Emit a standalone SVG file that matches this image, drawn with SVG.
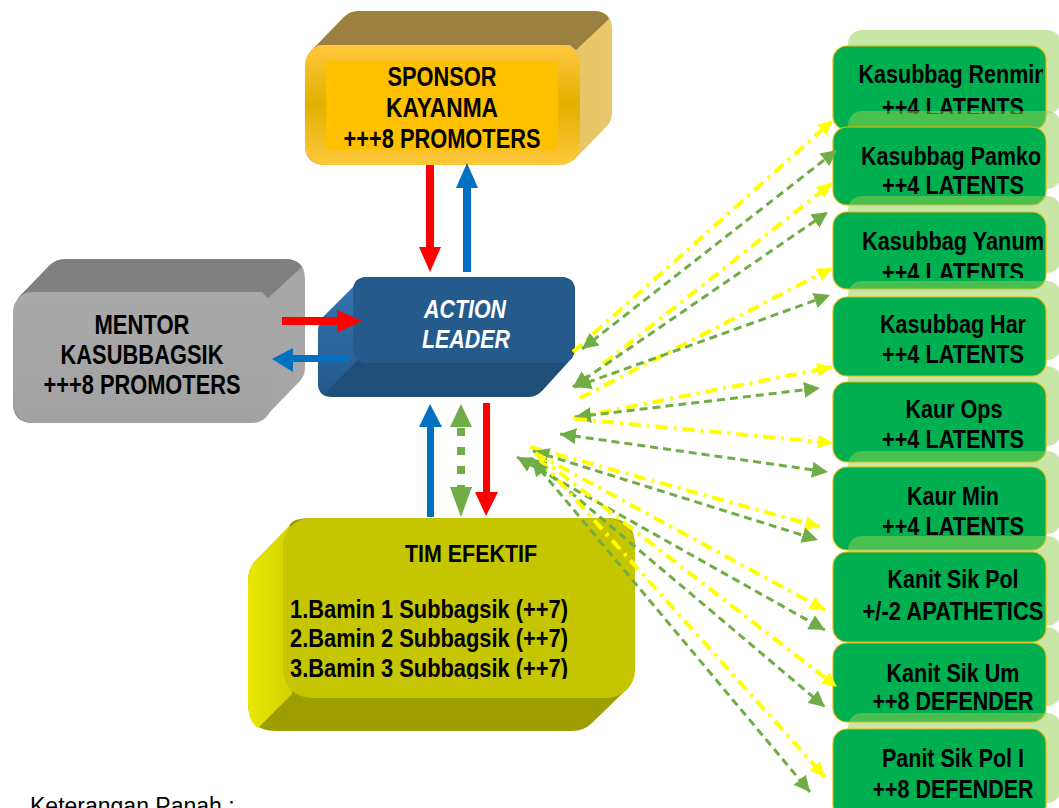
<svg xmlns="http://www.w3.org/2000/svg" width="1059" height="808" viewBox="0 0 1059 808">
<style>
.bt{font-family:"Liberation Sans",Arial,sans-serif;font-weight:bold;fill:#000}
.big{font-size:27px;text-anchor:middle}
.rbt{font-size:25px;text-anchor:middle}
.al{font-family:"Liberation Sans",Arial,sans-serif;font-weight:bold;font-style:italic;font-size:25px;fill:#fff;text-anchor:middle}
.rbox{fill:#00b050;stroke:#f0b400;stroke-width:1.2}
.rsh{fill:#92d050;fill-opacity:0.5}
.yl{fill:none;stroke:#ffff00;stroke-width:4;stroke-dasharray:12 6 3 6;marker-end:url(#ay)}
.gl{fill:none;stroke:#70ad47;stroke-width:3;stroke-dasharray:8 5;marker-start:url(#ag);marker-end:url(#ag)}
</style>
<defs>
<marker id="ay" markerUnits="userSpaceOnUse" markerWidth="16" markerHeight="14" refX="15" refY="7" orient="auto-start-reverse"><path d="M0,0 L15,7 L0,14 Z" fill="#ffff00"/></marker>
<marker id="ag" markerUnits="userSpaceOnUse" markerWidth="17" markerHeight="16" refX="16" refY="8" orient="auto-start-reverse"><path d="M0,0 L16,8 L0,16 Z" fill="#70ad47"/></marker>
<linearGradient id="spFront" x1="0" y1="0" x2="0" y2="1"><stop offset="0" stop-color="#ffc83c"/><stop offset="0.5" stop-color="#e2b000"/><stop offset="1" stop-color="#ffc83c"/></linearGradient>
<linearGradient id="spSide" x1="0" y1="0" x2="1" y2="0"><stop offset="0" stop-color="#d9b44e"/><stop offset="1" stop-color="#e8c86a"/></linearGradient>
<linearGradient id="mnSide" x1="0" y1="0" x2="1" y2="0"><stop offset="0" stop-color="#8a8a8a"/><stop offset="1" stop-color="#a8a8a8"/></linearGradient>
<linearGradient id="mnFront" x1="0" y1="0" x2="0" y2="1"><stop offset="0" stop-color="#a9a9a9"/><stop offset="1" stop-color="#a2a2a2"/></linearGradient>
<linearGradient id="alSide" x1="0" y1="0" x2="0" y2="1"><stop offset="0" stop-color="#3374b2"/><stop offset="1" stop-color="#23598b"/></linearGradient>
<linearGradient id="teSide" x1="0" y1="0" x2="1" y2="0"><stop offset="0" stop-color="#e8e800"/><stop offset="1" stop-color="#d2d200"/></linearGradient>
<clipPath id="cTe"><rect x="283" y="518" width="352" height="161"/></clipPath>
<clipPath id="cR"><rect x="835" y="0" width="208" height="808"/></clipPath>
<clipPath id="cR1"><rect x="835" y="46" width="208" height="68"/></clipPath>
<clipPath id="cR3"><rect x="835" y="212" width="208" height="66"/></clipPath>
</defs>

<rect x="0" y="0" width="1059" height="808" fill="#ffffff"/>

<g id="node-sponsor">
<path d="M310,52 L344,17 Q350,11 358,11 L594,11 Q612,11 612,29 L612,113 Q612,121 606,127 L574,160 L560,165 L325,165 Q305,165 305,145 L305,65 Z" fill="url(#spSide)"/>
<path d="M310,52 L344,17 Q350,11 358,11 L594,11 Q605,11 609,19 L576,50 L570,45 L318,45 Z" fill="#9c8040"/>
<rect x="305" y="45" width="275" height="120" rx="20" fill="url(#spFront)"/>
<rect x="326" y="61" width="232" height="89" fill="#ffc000"/>
<text class="bt big" x="442" y="86" textLength="109" lengthAdjust="spacingAndGlyphs">SPONSOR</text>
<text class="bt big" x="442" y="117" textLength="112" lengthAdjust="spacingAndGlyphs">KAYANMA</text>
<text class="bt big" x="442" y="148" textLength="197" lengthAdjust="spacingAndGlyphs">+++8 PROMOTERS</text>
</g>

<g id="node-mentor">
<path d="M18,298 L50,265 Q56,259 66,259 L285,259 Q305,259 305,279 L305,368 Q305,376 299,382 L266,416 L250,423 L33,423 Q13,423 13,403 L13,312 Z" fill="url(#mnSide)"/>
<path d="M18,298 L50,265 Q56,259 66,259 L285,259 Q297,259 302,267 L268,298 L262,292 L26,292 Z" fill="#808080"/>
<rect x="13" y="292" width="259" height="131" rx="20" fill="url(#mnFront)"/>
<text class="bt big" x="142" y="334" textLength="95" lengthAdjust="spacingAndGlyphs">MENTOR</text>
<text class="bt big" x="142" y="364" textLength="163" lengthAdjust="spacingAndGlyphs">KASUBBAGSIK</text>
<text class="bt big" x="142" y="394" textLength="197" lengthAdjust="spacingAndGlyphs">+++8 PROMOTERS</text>
</g>

<g id="node-action-leader">
<path d="M353,291 L323,321 Q318,326 318,334 L318,383 Q318,397 332,397 L528,397 Q536,397 542,391 L572,358 L575,349 L575,291 Q575,277 561,277 L367,277 Q353,277 353,291 Z" fill="#1f4e79"/>
<path d="M356,284 L322,318 Q318,323 318,332 L318,383 Q318,391 324,394 L358,360 Z" fill="url(#alSide)"/>
<rect x="353" y="277" width="222" height="86" rx="14" fill="#255b8c"/>
<text class="al" x="465" y="318" textLength="82" lengthAdjust="spacingAndGlyphs">ACTION</text>
<text class="al" x="466" y="348" textLength="88" lengthAdjust="spacingAndGlyphs">LEADER</text>
</g>

<g id="node-tim-efektif">
<path d="M289,528 L256,561 Q248,569 248,581 L248,703 Q248,731 276,731 L572,731 Q584,731 592,723 L628,688 L635,670 L635,546 Q635,518 607,518 L311,518 Q289,518 289,528 Z" fill="#9e9e00"/>
<path d="M290,525 L254,562 Q248,569 248,581 L248,703 Q248,722 258,728 L292,694 Z" fill="url(#teSide)"/>
<rect x="283" y="518" width="352" height="180" rx="28" fill="#c6c600"/>
<text class="bt" x="471" y="562" font-size="23" text-anchor="middle" textLength="132" lengthAdjust="spacingAndGlyphs">TIM EFEKTIF</text>
<g clip-path="url(#cTe)">
<text class="bt" x="290" y="618" font-size="25" textLength="278" lengthAdjust="spacingAndGlyphs">1.Bamin 1 Subbagsik (++7)</text>
<text class="bt" x="290" y="647" font-size="25" textLength="278" lengthAdjust="spacingAndGlyphs">2.Bamin 2 Subbagsik (++7)</text>
<text class="bt" x="290" y="677" font-size="25" textLength="278" lengthAdjust="spacingAndGlyphs">3.Bamin 3 Subbagsik (++7)</text>
</g>
</g>

<g id="node-renmin">
<rect class="rsh" x="848" y="30" width="213" height="84" rx="14"/>
<rect class="rbox" x="833" y="46" width="213" height="84" rx="14"/>
<g clip-path="url(#cR1)">
<text class="bt rbt" x="953" y="83" textLength="189" lengthAdjust="spacingAndGlyphs">Kasubbag Renmin</text>
<text class="bt rbt" x="953" y="116" textLength="142" lengthAdjust="spacingAndGlyphs">++4 LATENTS</text>
</g>
</g>
<g id="node-pamko">
<rect class="rsh" x="848" y="111" width="213" height="78" rx="14"/>
<rect class="rbox" x="833" y="127" width="213" height="78" rx="14"/>
<g clip-path="url(#cR)">
<text class="bt rbt" x="951" y="165" textLength="180" lengthAdjust="spacingAndGlyphs">Kasubbag Pamko</text>
<text class="bt rbt" x="953" y="194" textLength="142" lengthAdjust="spacingAndGlyphs">++4 LATENTS</text>
</g>
</g>
<g id="node-yanum">
<rect class="rsh" x="848" y="196" width="213" height="77" rx="14"/>
<rect class="rbox" x="833" y="212" width="213" height="77" rx="14"/>
<g clip-path="url(#cR3)">
<text class="bt rbt" x="953" y="250" textLength="182" lengthAdjust="spacingAndGlyphs">Kasubbag Yanum</text>
<text class="bt rbt" x="953" y="281" textLength="142" lengthAdjust="spacingAndGlyphs">++4 LATENTS</text>
</g>
</g>
<rect class="rsh" x="848" y="366" width="213" height="80" rx="14"/>
<g id="node-har">
<rect class="rsh" x="848" y="281" width="213" height="79" rx="14"/>
<rect class="rbox" x="833" y="297" width="213" height="79" rx="14"/>
<text class="bt rbt" x="953" y="333" textLength="146" lengthAdjust="spacingAndGlyphs">Kasubbag Har</text>
<text class="bt rbt" x="953" y="363" textLength="142" lengthAdjust="spacingAndGlyphs">++4 LATENTS</text>
</g>
<g id="node-kaur-ops">
<rect class="rbox" x="833" y="382" width="213" height="80" rx="14"/>
<text class="bt rbt" x="954" y="418" textLength="97" lengthAdjust="spacingAndGlyphs">Kaur Ops</text>
<text class="bt rbt" x="953" y="448" textLength="142" lengthAdjust="spacingAndGlyphs">++4 LATENTS</text>
</g>
<g id="node-kaur-min">
<rect class="rsh" x="848" y="451" width="213" height="83" rx="14"/>
<rect class="rbox" x="833" y="467" width="213" height="83" rx="14"/>
<text class="bt rbt" x="953" y="505" textLength="92" lengthAdjust="spacingAndGlyphs">Kaur Min</text>
<text class="bt rbt" x="953" y="535" textLength="142" lengthAdjust="spacingAndGlyphs">++4 LATENTS</text>
</g>
<rect class="rsh" x="848" y="627" width="213" height="79" rx="14"/>
<g id="node-kanit-sik-pol">
<rect class="rsh" x="848" y="536" width="213" height="90" rx="14"/>
<rect class="rbox" x="833" y="552" width="213" height="90" rx="14"/>
<g clip-path="url(#cR)">
<text class="bt rbt" x="953" y="588" textLength="131" lengthAdjust="spacingAndGlyphs">Kanit Sik Pol</text>
<text class="bt rbt" x="953" y="620" textLength="181" lengthAdjust="spacingAndGlyphs">+/-2 APATHETICS</text>
</g>
</g>
<g id="node-kanit-sik-um">
<rect class="rbox" x="833" y="643" width="213" height="79" rx="14"/>
<text class="bt rbt" x="953" y="682" textLength="133" lengthAdjust="spacingAndGlyphs">Kanit Sik Um</text>
<text class="bt rbt" x="953" y="710" textLength="161" lengthAdjust="spacingAndGlyphs">++8 DEFENDER</text>
</g>
<g id="node-panit-sik-pol-i">
<rect class="rsh" x="848" y="713" width="213" height="90" rx="14"/>
<rect class="rbox" x="833" y="729" width="213" height="90" rx="14"/>
<text class="bt rbt" x="953" y="767" textLength="142" lengthAdjust="spacingAndGlyphs">Panit Sik Pol I</text>
<text class="bt rbt" x="953" y="798" textLength="161" lengthAdjust="spacingAndGlyphs">++8 DEFENDER</text>
</g>

<g id="connectors">
<polygon points="426,165 434,165 434,247 441,247 430,272 419,247 426,247" fill="#ff0000"/>
<polygon points="463,272 471,272 471,188 478,188 467,163 456,188 463,188" fill="#0070c0"/>
<polygon points="282,317 337,317 337,310 362,321 337,333 337,325 282,325" fill="#ff0000"/>
<polygon points="349,355 293,355 293,348 272,359 293,372 293,362 349,362" fill="#0070c0"/>
<polygon points="427,517 434,517 434,427 442,427 430,404 419,427 427,427" fill="#0070c0"/>
<line x1="461" y1="428" x2="461" y2="487" stroke="#70ad47" stroke-width="8" stroke-dasharray="8 11"/>
<polygon points="461,404 472,427 450,427" fill="#70ad47"/>
<polygon points="461,517 472,487 450,487" fill="#70ad47"/>
<polygon points="483,403 490,403 490,492 498,492 486,516 475,492 483,492" fill="#ff0000"/>

<path class="yl" d="M573,352 L833,120"/>
<path class="gl" d="M582,349 L837,150"/>
<path class="yl" d="M603,364 L832,183"/>
<path class="gl" d="M573,387 L828,212"/>
<path class="yl" d="M580,398 L832,268"/>
<path class="gl" d="M575,387 L830,295"/>
<path class="yl" d="M573,418 L832,367"/>
<path class="gl" d="M575,417 L820,388"/>
<path class="yl" d="M575,419 L833,443"/>
<path class="gl" d="M560,434 L828,472"/>
<path class="yl" d="M530,447 L820,527"/>
<path class="gl" d="M533,451 L818,540"/>
<path class="yl" d="M535,453 L825,610"/>
<path class="gl" d="M517,457 L825,630"/>
<path class="yl" d="M538,456 L837,687"/>
<path class="gl" d="M530,458 L825,707"/>
<path class="yl" d="M540,460 L825,777"/>
<path class="gl" d="M532,460 L810,792"/>
</g>

<text id="legend" x="30" y="814" font-family="'Liberation Sans',Arial,sans-serif" font-size="23" fill="#000">Keterangan Panah :</text>
</svg>
